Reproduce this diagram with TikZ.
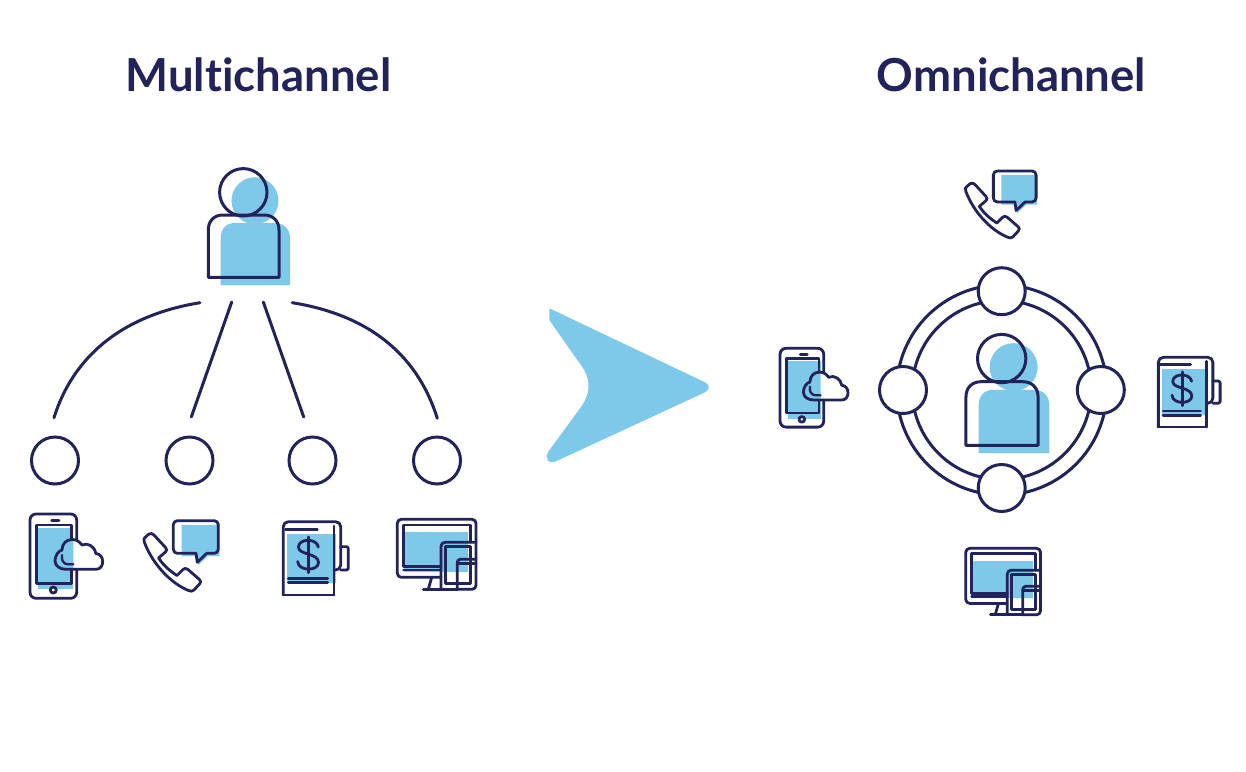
\documentclass[tikz,border=0pt]{standalone}
\usepackage{fontspec}
\setmainfont{Lato}[BoldFont={Lato Bold},Ligatures=NoCommon]
\definecolor{navy}{HTML}{23235B}
\definecolor{skyb}{HTML}{7EC9EA}
\def\cloudpath{(66,569.3) -- (96,569.3) .. controls (100,569.3) and (102.7,566) .. (102.7,561.7) .. controls (102.7,557) and (100,554) .. (96,553.5) .. controls (95,547) and (88,542) .. (82,545) .. controls (79,541) and (76,539.5) .. (72,539.5) .. controls (66,539.5) and (62,544) .. (62,550) .. controls (58,551) and (55,556) .. (55,561) .. controls (55,566) and (60,569.3) .. (66,569.3) -- cycle}
\tikzset{
  ink/.style={draw=navy,line width=2.8pt,line join=round,line cap=round},
  thin ink/.style={draw=navy,line width=2.3pt,line join=round,line cap=round},
  tint/.style={fill=skyb,draw=none},
  title/.style={text=navy,font=\fontsize{45.5}{50}\selectfont\bfseries,inner sep=0pt},
  hub/.style={circle,draw=navy,line width=3pt,fill=white,minimum size=47pt,inner sep=0pt},
  link/.style={draw=navy,line width=3pt,line cap=round,line join=round},
  pics/person/.style={code={
    \fill[tint] (255,200.7) circle (23.5);
    \fill[tint] (220.7,285) -- (220.7,238) .. controls (220.7,229) and (226,223) .. (235,223) -- (275,223) .. controls (284,223) and (290,229) .. (290,238) -- (290,285) -- cycle;
    \draw[link] (243.3,192.3) circle (23.7);
    \draw[link] (208.3,277.3) -- (208.3,230) .. controls (208.3,221) and (214,215) .. (223,215) -- (264,215) .. controls (273,215) and (279,221) .. (279,230) -- (279,277.3) -- cycle;
  }},
  pics/mobile/.style={code={
    \fill[tint] (38.3,528) rectangle (73.3,589.3);
    \draw[ink,rounded corners=6] (30,514) rectangle (76.7,598.3);
    \draw[ink] (36.7,525) rectangle (71.7,583.3);
    \draw[ink] (51.7,520.7) -- (59,520.7);
    \draw[ink,fill=white] (53.3,590) circle (3);
    \fill[white] \cloudpath;
    \begin{scope}
      \clip (38.3,528) rectangle (73.3,589.3);
      \fill[tint] \cloudpath;
    \end{scope}
    \draw[ink] \cloudpath;
    \draw[thin ink] (73.3,564.3) -- (68,564.3) .. controls (63.5,564.3) and (61,560) .. (62,555);
  }},
  pics/call/.style={code={
    \fill[tint] (181.7,525) -- (219.3,525) -- (219.3,556) -- (208,556) -- (198.5,565) -- (197,556) -- (181.7,556) -- cycle;
    \draw[ink,rounded corners=4] (196,553.3) -- (173.3,553.3) -- (173.3,520.7) -- (218.3,520.7) -- (218.3,553.3) -- (206.7,553.3);
    \draw[ink] (196,553.3) -- (197.3,562.3) -- (206.7,553.3);
    \draw[ink] (144.3,542) .. controls (143,539.5) and (144,538) .. (146,536.5) -- (149,534)
      .. controls (151,533) and (152.5,533.5) .. (154,535) -- (165.5,547.5)
      .. controls (167,549.5) and (167,550.5) .. (165.5,552) -- (158.5,558)
      .. controls (164,566) and (170,571) .. (177,575.5) -- (183,569.5)
      .. controls (184.5,568) and (186,568) .. (188,569.5) -- (199.5,579.5)
      .. controls (201,581) and (201,582.5) .. (199.5,584) -- (194,590)
      .. controls (192.5,591.5) and (190.5,591.5) .. (188.5,590.5)
      .. controls (170,583) and (152,563) .. (144.3,542) -- cycle;
  }},
  pics/receipt/.style={code={
    \fill[tint] (287.3,534.3) rectangle (336,582.7);
    \draw[ink,rounded corners=5] (283.3,595) -- (283.3,521.7) -- (340.7,521.7) -- (340.7,570) -- (334,570);
    \draw[ink] (334,595) -- (334,526);
    \draw[ink] (283.3,595) -- (334,595);
    \draw[white,line width=1.4pt,dash pattern=on 2pt off 3.2pt] (284.5,596.6) -- (333,596.6);
    \draw[ink,rounded corners=1.5] (340.7,546.7) -- (348.3,546.7) -- (348.3,570) -- (340.7,570);
    \draw[ink] (285.5,529.3) -- (317.3,529.3);
    \draw[ink] (288.3,578.3) -- (327.7,578.3);
    \draw[ink] (288.3,582.7) -- (327.7,582.7);
    \draw[ink] (308.3,537) -- (308.3,572.7);
    \draw[ink] (318.3,547) .. controls (317,538) and (298,538) .. (298.5,547.5)
      .. controls (299,555) and (318.5,553) .. (318.5,562.5)
      .. controls (318.5,571.5) and (298,571.5) .. (297.7,561.5);
  }},
  pics/screens/.style={code={
    \fill[tint] (404,532.3) rectangle (468.3,571.7);
    \draw[ink,rounded corners=4] (441,577.3) -- (397.3,577.3) -- (397.3,519.3) -- (476,519.3) -- (476,589.3) -- (457.3,589.3);
    \draw[ink] (441,566.7) -- (403.3,566.7) -- (403.3,525) -- (470.7,525) -- (470.7,542.3);
    \draw[thin ink] (403.3,570) -- (441,570);
    \draw[ink] (423.3,589.3) -- (441,589.3);
    \draw[ink] (431.7,577.3) -- (428.3,589.3);
    \draw[ink,rounded corners=4] (441,589.3) -- (441,542.3) -- (476,542.3);
    \draw[ink] (441,589.3) -- (457.3,589.3);
    \draw[ink] (445.7,546.7) rectangle (470.7,583.3);
    \draw[ink,rounded corners=3] (457.3,589.3) -- (457.3,559.3) -- (476,559.3);
    \draw[ink] (457.3,563.3) -- (476,563.3);
  }}
}
\begin{document}
\begin{tikzpicture}[x=1pt,y=-1pt]
\useasboundingbox (0,0) rectangle (1246,771);
\fill[white] (0,0) rectangle (1246,771);

\node[title] (titleL) at (258.5,75) {Multichannel};
\node[title] (titleR) at (1011.5,75) {Omnichannel};

% left column
\pic at (0,0) {person};
\node[hub] (h1) at (55,460.5) {};
\node[hub] (h2) at (189.5,460.5) {};
\node[hub] (h3) at (312.5,460.5) {};
\node[hub] (h4) at (437,460.5) {};
\coordinate (a1) at (200,302.7); \coordinate (b1) at (54,417.7);
\coordinate (a2) at (231.7,302); \coordinate (b2) at (191.3,417);
\coordinate (a3) at (263.3,302); \coordinate (b3) at (303.7,417);
\coordinate (a4) at (292.3,302.7); \coordinate (b4) at (437.3,418.3);
\draw[link] (a1) .. controls (118,316) and (72,360) .. (b1);
\draw[link] (a2) -- (b2);
\draw[link] (a3) -- (b3);
\draw[link] (a4) .. controls (375,316) and (419,360) .. (b4);
\pic at (0,0) {mobile};
\pic at (0,0) {call};
\pic at (0,0) {receipt};
\pic at (0,0) {screens};

% arrow
\fill[skyb] (549.3,308.3) -- (705,382.3) .. controls (709.5,384.5) and (710.5,389.5) .. (705,392.3)
  -- (555,461.7) .. controls (549,464) and (544.5,460) .. (548.3,451.7)
  -- (578,411) .. controls (592,394) and (592,378) .. (578,361)
  -- (549.3,320) -- cycle;

% right column
\draw[link] (1001.7,390) circle (105);
\draw[link] (1001.7,390) circle (89.5);
\node[hub] (r1) at (1001.7,291.2) {};
\node[hub] (r2) at (903,390) {};
\node[hub] (r3) at (1100.8,390) {};
\node[hub] (r4) at (1001.7,488) {};
\pic[scale=1.02] at (753.5,162.4) {person};
\pic[scale=.935] at (752,-132.3) {mobile};
\pic[scale=.95] at (828.7,-323.7) {call};
\pic[scale=.95] at (889.2,-138.3) {receipt};
\pic[scale=.95] at (588.3,55) {screens};
\end{tikzpicture}
\end{document}
